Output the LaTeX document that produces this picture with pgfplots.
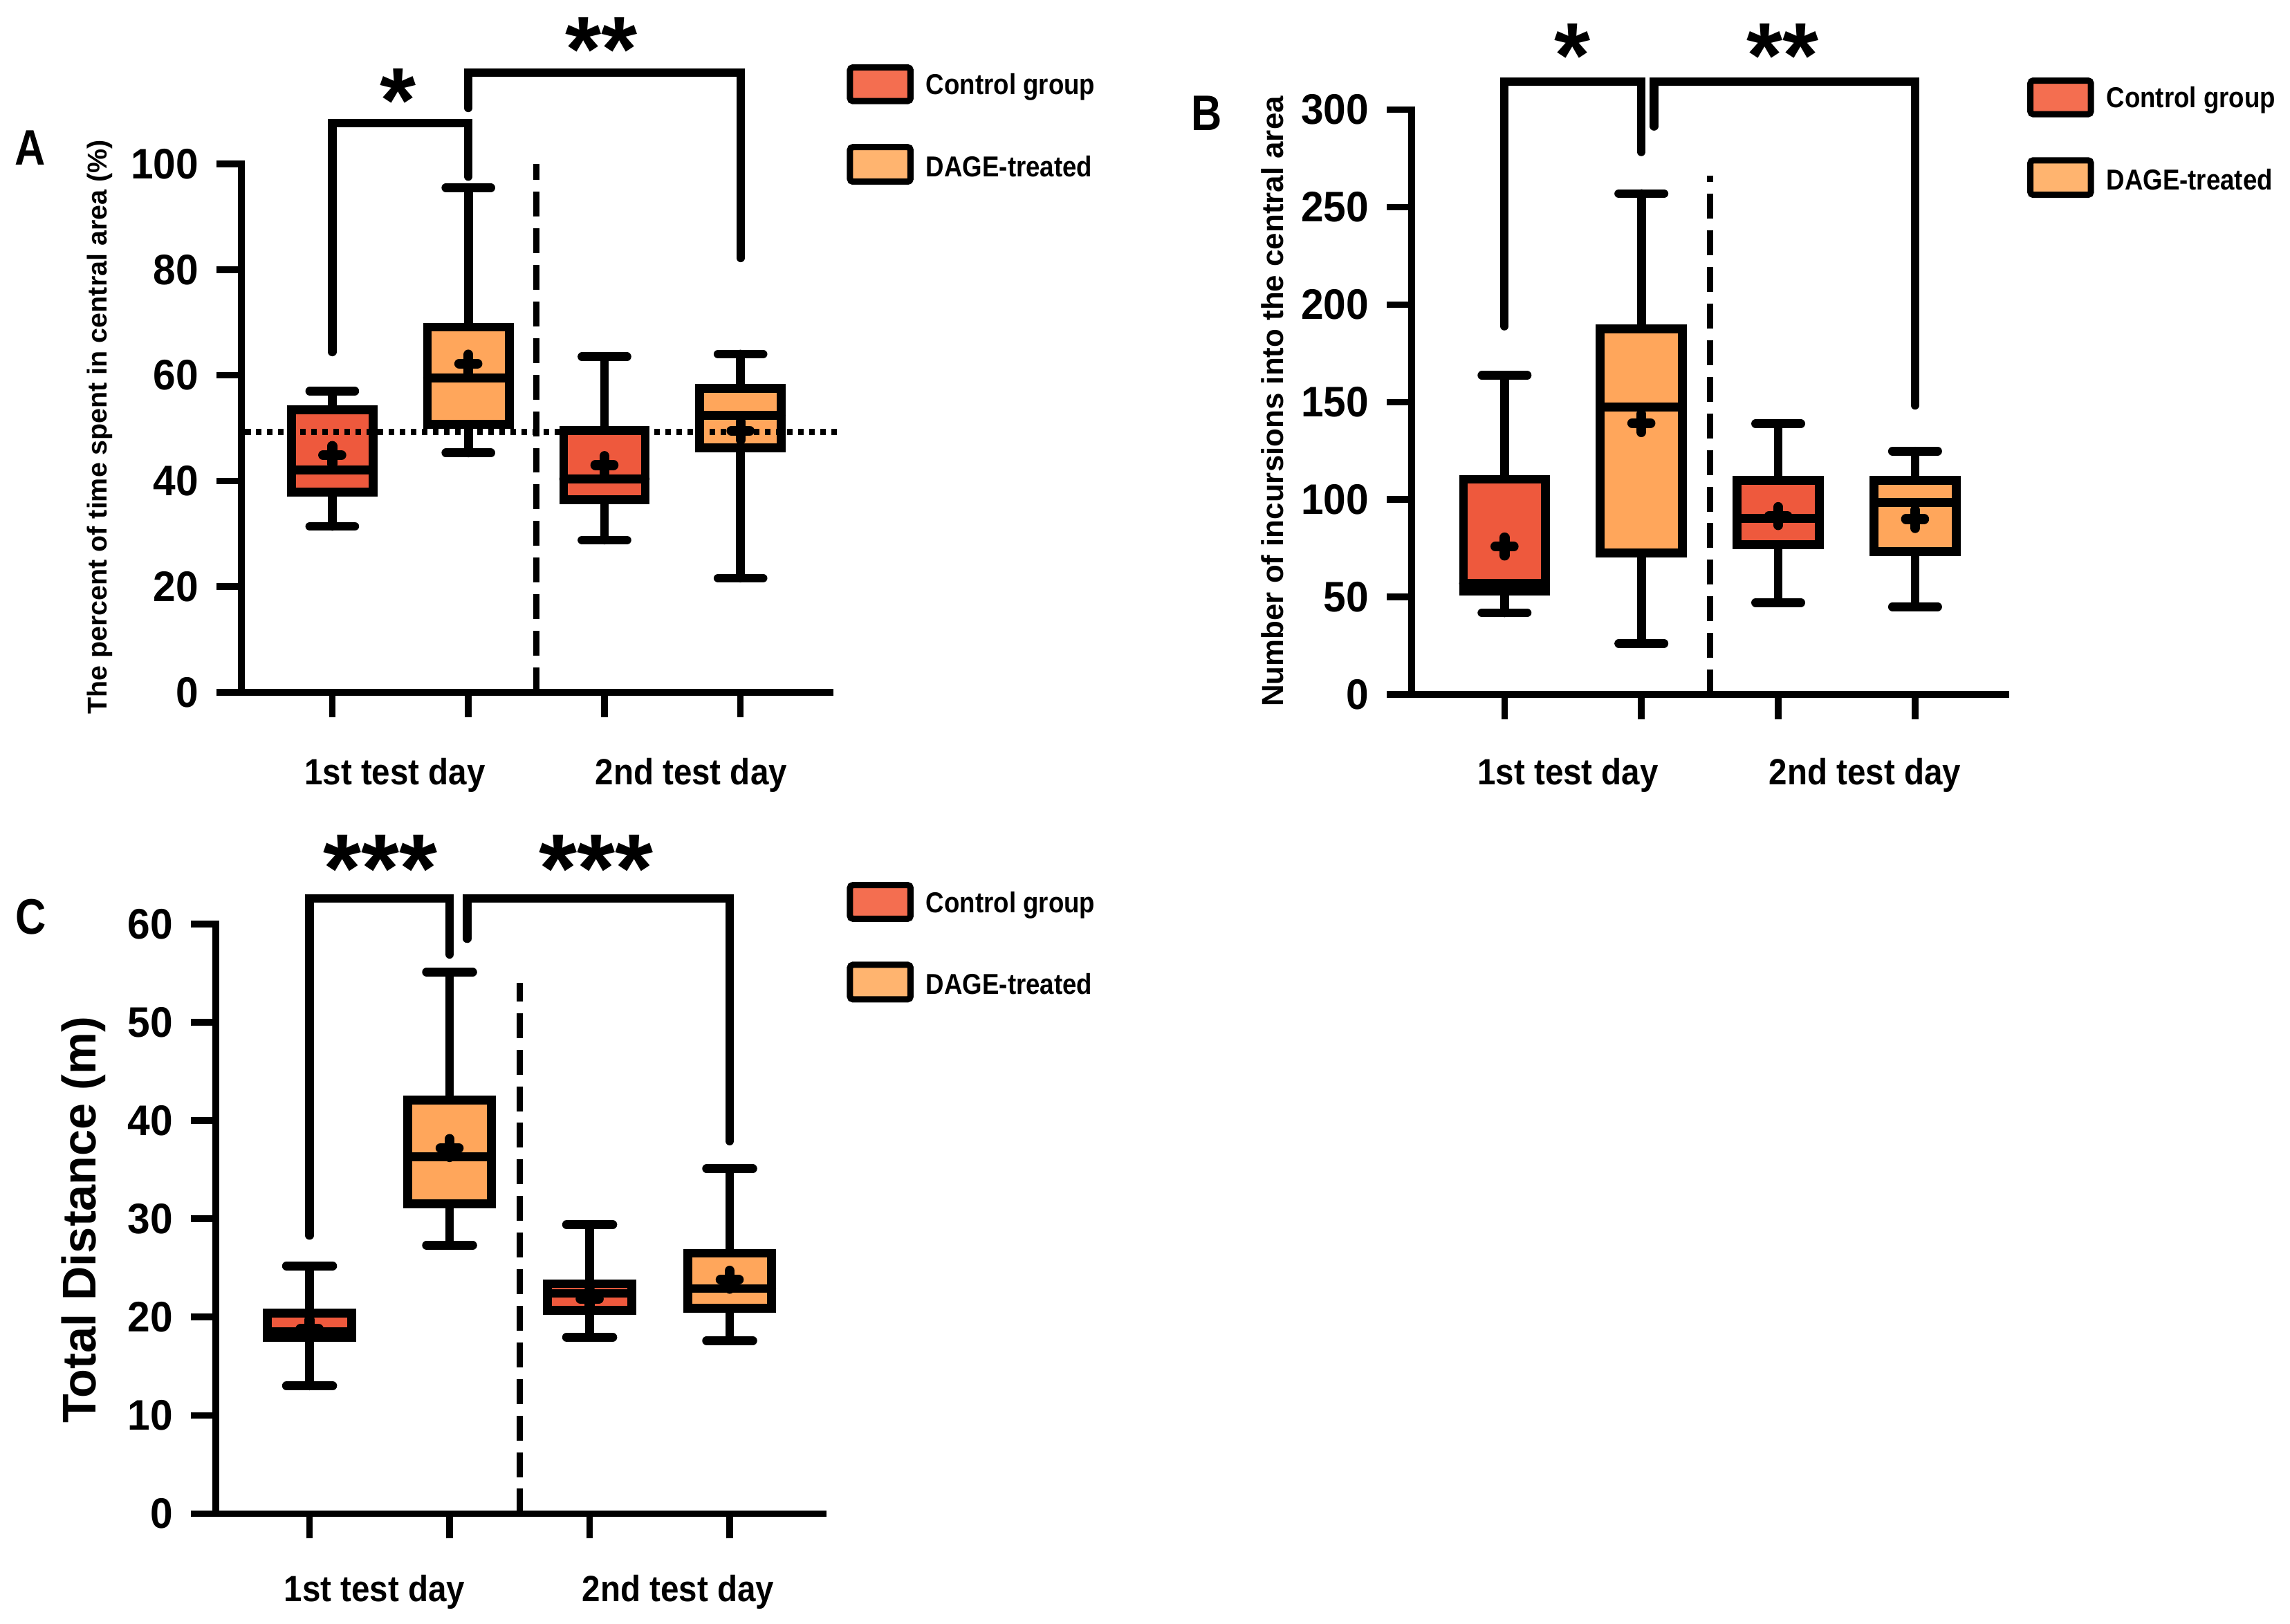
\documentclass[border=0pt]{standalone}
\usepackage{pgfplots}
\pgfplotsset{compat=1.18}
\usepgfplotslibrary{statistics}
\usepackage{fontspec}
\setmainfont{Liberation Sans}
\newfontfamily\bsans{Liberation Sans Bold}
\newfontfamily\tickf[FakeStretch=0.95]{Liberation Sans Bold}
\newfontfamily\labf[FakeStretch=0.9]{Liberation Sans Bold}
\newfontfamily\legf[FakeStretch=0.88]{Liberation Sans Bold}
\newfontfamily\letf[FakeStretch=0.85]{Liberation Sans Bold}

\definecolor{ctrl}{HTML}{EE593D}
\definecolor{dage}{HTML}{FFA65B}
\definecolor{ctrlleg}{HTML}{F46E50}
\definecolor{dageleg}{HTML}{FFB46F}

\pgfplotsset{
  panel/.style={
    scale only axis, anchor=south west, clip=false,
    axis lines=left,
    axis line style={-, line width=0.045cm, line cap=rect},
    tick align=outside, major tick length=0.17cm,
    tick style={line width=0.045cm, black},
    xtick={1,2,3,4}, xticklabels={},
    tick label style={font=\tickf\fontsize{8.3}{8.3}\selectfont},
    /pgf/number format/assume math mode=true,
    boxplot/draw direction=y,
    boxplot/box extend=0.6, boxplot/whisker extend=0.33,
    boxplot/every box/.append style={line width=0.06cm, line join=miter},
    boxplot/every whisker/.append style={line width=0.06cm, line cap=round},
    boxplot/every median/.append style={line width=0.06cm},
  },
  bx/.style={draw=black, fill=#1, line width=0.06cm, line cap=round, line join=miter, solid},
  mn/.style={only marks, mark=+, mark size=0.062cm, mark options={line width=0.068cm, line cap=round, black}},
  brk/.style={black, line width=0.058cm, line cap=round, line join=miter},
  vdash/.style={black, line width=0.042cm, dash pattern=on 0.17cm off 0.08cm},
}

\begin{document}
\begin{tikzpicture}

% ---------------- A ----------------
\begin{axis}[panel, at={(1.65cm,-4.73cm)}, width=4.02cm, height=3.61cm,
  xmin=0.333, xmax=4.656, ymin=0, ymax=100, ytick={0,20,...,100}]
\addplot[bx=ctrl, boxplot prepared={draw position=1, lower whisker=31.4, lower quartile=37.9, median=42.1, upper quartile=53.5, upper whisker=57.0}] coordinates {};
\addplot[bx=dage, boxplot prepared={draw position=2, lower whisker=45.3, lower quartile=50.7, median=59.5, upper quartile=69.1, upper whisker=95.5}] coordinates {};
\addplot[bx=ctrl, boxplot prepared={draw position=3, lower whisker=28.8, lower quartile=36.4, median=40.4, upper quartile=49.5, upper whisker=63.5}] coordinates {};
\addplot[bx=dage, boxplot prepared={draw position=4, lower whisker=21.6, lower quartile=46.3, median=52.4, upper quartile=57.5, upper whisker=64.0}] coordinates {};
\addplot[mn] coordinates {(1,44.9) (2,62.2) (3,43.0) (4,49.5)};
\addplot[black, line width=0.0425cm, dash pattern=on 0.038cm off 0.0376cm] coordinates {(0.36,49.3) (4.74,49.3)};
\addplot[vdash] coordinates {(2.5,0) (2.5,100)};
\addplot[brk] coordinates {(1,64.4) (1,107.7) (2,107.7) (2,97.6)};
\addplot[brk] coordinates {(2,110.6) (2,117.3) (4,117.3) (4,82.2)};
\end{axis}

% ---------------- B ----------------
\begin{axis}[panel, at={(9.646cm,-4.745cm)}, width=4.06cm, height=3.996cm,
  xmin=0.322, xmax=4.664, ymin=0, ymax=300, ytick={0,50,...,300}]
\addplot[bx=ctrl, boxplot prepared={draw position=1, lower whisker=41.9, lower quartile=53.0, median=57.0, upper quartile=110.4, upper whisker=163.7}] coordinates {};
\addplot[bx=dage, boxplot prepared={draw position=2, lower whisker=26.2, lower quartile=72.5, median=147.5, upper quartile=187.5, upper whisker=256.9}] coordinates {};
\addplot[bx=ctrl, boxplot prepared={draw position=3, lower whisker=47.1, lower quartile=76.9, median=90.2, upper quartile=109.9, upper whisker=138.9}] coordinates {};
\addplot[bx=dage, boxplot prepared={draw position=4, lower whisker=45.0, lower quartile=73.2, median=98.6, upper quartile=109.9, upper whisker=124.8}] coordinates {};
\addplot[mn] coordinates {(1,75.9) (2,139.2) (3,91.5) (4,90.0)};
\addplot[vdash] coordinates {(2.5,0) (2.5,266)};
\addplot[brk] coordinates {(1,188.9) (1,314.4) (2,314.4) (2,278.3)};
\addplot[brk] coordinates {(2.093,291.4) (2.093,314.4) (4,314.4) (4,148.3)};
\end{axis}

% ---------------- C ----------------
\begin{axis}[panel, at={(1.475cm,-10.342cm)}, width=4.15cm, height=4.029cm,
  xmin=0.331, xmax=4.668, ymin=0, ymax=60, ytick={0,10,...,60}]
\addplot[bx=ctrl, boxplot prepared={draw position=1, lower whisker=13.0, lower quartile=17.9, median=18.5, upper quartile=20.4, upper whisker=25.2}] coordinates {};
\addplot[bx=dage, boxplot prepared={draw position=2, lower whisker=27.3, lower quartile=31.5, median=36.3, upper quartile=42.1, upper whisker=55.1}] coordinates {};
\addplot[bx=ctrl, boxplot prepared={draw position=3, lower whisker=17.95, lower quartile=20.7, median=22.4, upper quartile=23.4, upper whisker=29.4}] coordinates {};
\addplot[bx=dage, boxplot prepared={draw position=4, lower whisker=17.6, lower quartile=20.9, median=22.9, upper quartile=26.5, upper whisker=35.1}] coordinates {};
\addplot[mn] coordinates {(1,18.8) (2,37.2) (3,21.85) (4,23.8)};
\addplot[vdash] coordinates {(2.5,0) (2.5,54)};
\addplot[brk] coordinates {(1,28.3) (1,62.6) (2,62.6) (2,56.9)};
\addplot[brk] coordinates {(2.125,58.5) (2.125,62.6) (4,62.6) (4,37.9)};
\end{axis}

% ---------------- text, legends ----------------
\begin{scope}[x=0.01cm, y=-0.01cm]
  % panel letters
  \node[font=\letf\fontsize{9.7}{9.7}\selectfont] at (20.5,101) {A};
  \node[font=\letf\fontsize{9.7}{9.7}\selectfont] at (825,77.5) {B};
  \node[font=\letf\fontsize{9.7}{9.7}\selectfont] at (21,627) {C};
  % y titles
  \node[rotate=90, font=\bsans\fontsize{5.3}{5.3}\selectfont] at (68,292) {The percent of time spent in central area (\%)};
  \node[rotate=90, font=\bsans\fontsize{5.9}{5.9}\selectfont] at (870,274.5) {Number of incursions into the central area};
  \node[rotate=90, font=\bsans\fontsize{9.2}{9.2}\selectfont] at (57,834) {Total Distance (m)};
  % x group labels
  \tikzset{xl/.style={anchor=base, inner sep=0pt, font=\labf\fontsize{7.1}{7.1}\selectfont}}
  \node[xl] at (270,536.5) {1st test day};
  \node[xl] at (472.5,536.5) {2nd test day};
  \node[xl] at (1072,536.5) {1st test day};
  \node[xl] at (1275,536.5) {2nd test day};
  \node[xl] at (256,1095) {1st test day};
  \node[xl] at (463.6,1095) {2nd test day};
  % stars
  \tikzset{st/.style={inner sep=0pt, font=\bsans\fontsize{18}{18}\selectfont}}
  \node[st] at (272,69) {*};
  \node[st] at (411,34) {**};
  \node[st] at (1075,38) {*};
  \node[st] at (1219,38) {**};
  \node[st, font=\bsans\fontsize{19}{19}\selectfont] at (260,594) {***};
  \node[st, font=\bsans\fontsize{19}{19}\selectfont] at (407.6,594) {***};
  % legends
  \foreach \dx/\dy in {0/0, 807/9, 0/559} {
    \begin{scope}[shift={(\dx,\dy)}]
      \draw[line width=0.0425cm, fill=ctrlleg, rounded corners=0.02cm] (581.1,46.1) rectangle (622.5,69.1);
      \draw[line width=0.0425cm, fill=dageleg, rounded corners=0.02cm] (581.1,100.6) rectangle (622.5,124.2);
      \node[anchor=base west, inner sep=0pt, font=\legf\fontsize{5.6}{5.6}\selectfont] at (632.4,64.7) {Control group};
      \node[anchor=base west, inner sep=0pt, font=\legf\fontsize{5.6}{5.6}\selectfont] at (632.4,120.7) {DAGE-treated};
    \end{scope}
  }
\end{scope}

\pgfresetboundingbox
\useasboundingbox (0,0) rectangle (15.647cm,-11.096cm);
\end{tikzpicture}
\end{document}
